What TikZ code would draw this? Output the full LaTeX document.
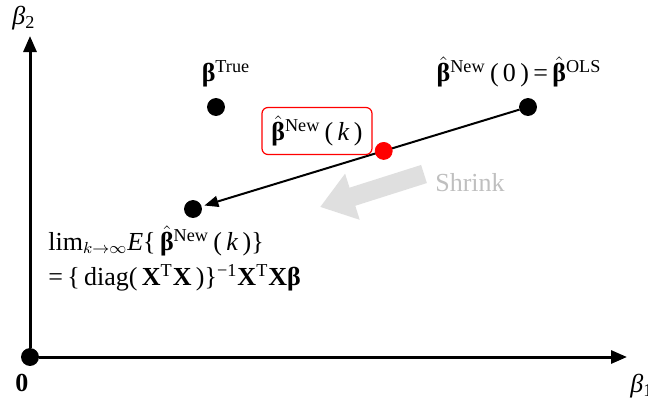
\documentclass[tikz,border=0pt]{standalone}
\usepackage{fontspec}
\setmainfont{Liberation Serif}
\usepackage{amsmath}
\usetikzlibrary{arrows.meta,positioning}
\newcommand{\bb}{\textbf{β}}
\newcommand{\bhat}{\ensuremath{\hat{\mbox{\bb}}}}
\tikzset{
  dot/.style={
    inner sep = 0pt,
    minimum size = 8.5pt,
    shape = circle,
    draw,
    fill
  },
  axis/.style={
    line width = 1.5pt,
    -{Triangle[length=8pt,width=6.5pt]}
  },
  path/.style={
    line width = 1pt,
    shorten > = 1.5pt,
    -{Triangle[length=7pt,width=5.5pt]}
  },
  estbox/.style={
    draw = red,
    rounded corners = 3pt,
    line width = 0.6pt,
    minimum width = 55pt,
    minimum height = 23.5pt
  },
  shrinkarrow/.style={
    draw = gray!25,
    line width = 9.5pt,
    -{Triangle[length=17pt,width=23pt]}
  },
  lbl/.style={
    inner sep = 1pt
  }
}
\begin{document}
\begin{tikzpicture}[x=0.5pt,y=-0.5pt,font=\fontsize{13}{17.5}\selectfont]
    \useasboundingbox (0,0) rectangle (648,402);
    % axes
    \node[dot] (O) at (30,357) {};
    \coordinate (ytip) at (30,36);
    \coordinate (xtip) at (627,357);
    \draw[axis] (O) -- (ytip);
    \draw[axis] (O) -- (xtip);
    \node[lbl] (b2) at (24,18) {\textit{β}\textsubscript{2}};
    \node[lbl] (b1) at (642,386) {\textit{β}\textsubscript{1}};
    \node[lbl] (zero) at (22,383) {\textbf{0}};
    % points
    \node[dot] (true) at (216,107) {};
    \node[dot] (ols) at (528,107) {};
    \node[dot] (lim) at (193,209) {};
    \node[lbl] (truelbl) at (226,74) {\bb\textsuperscript{True}};
    \node[lbl] (olslbl) at (519,72) {\bhat\textsuperscript{New}\,(\,0\,)\,=\,\bhat\textsuperscript{OLS}};
    \draw[path] (ols) -- (lim);
    \path (ols) -- (lim) node[dot, red, pos=0.427] (k) {};
    \node[estbox] (klbl) at (317,131) {\bhat\textsuperscript{New}\,(\,\textit{k}\,)};
    % shrink
    \coordinate (s1) at (424,174);
    \coordinate (s2) at (320,207);
    \draw[shrinkarrow] (s1) -- (s2);
    \node[lbl, text=gray!50] (shrink) at (470,183) {Shrink};
    \node[lbl, anchor=west, align=left] (limlbl) at (46,258)
      {lim\textsubscript{\fontsize{8}{8}\selectfont$k{\to}\infty$}\textit{E}\{\,\bhat\textsuperscript{New}\,(\,\textit{k}\,)\}\\
       =\,\{\,diag(\,\textbf{X}\textsuperscript{T}\textbf{X}\,)\}\textsuperscript{−1}\textbf{X}\textsuperscript{T}\textbf{X}\bb};
\end{tikzpicture}
\end{document}
